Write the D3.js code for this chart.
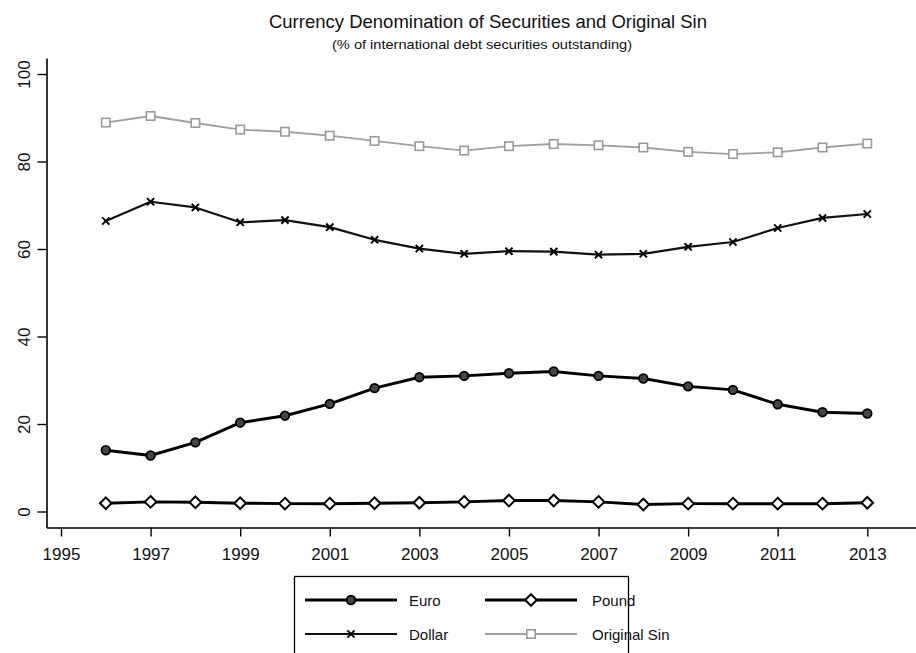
<!DOCTYPE html>
<html>
<head>
<meta charset="utf-8">
<script src="https://cdn.jsdelivr.net/npm/d3@7"></script>
<style>
  html, body { margin: 0; padding: 0; background: #fff; }
  svg { display: block; font-family: "Liberation Sans", Arial, sans-serif; }
</style>
</head>
<body>
<svg id="chart" width="916" height="653"></svg>
<script>
// ---- Data ----
const years = [1996,1997,1998,1999,2000,2001,2002,2003,2004,2005,2006,2007,2008,2009,2010,2011,2012,2013];
const euro = [14.0,12.8,15.8,20.3,21.9,24.6,28.2,30.7,31.0,31.6,32.0,31.0,30.4,28.6,27.8,24.5,22.7,22.4];
const pound = [1.9,2.2,2.1,1.9,1.8,1.8,1.9,2.0,2.2,2.5,2.5,2.2,1.6,1.8,1.8,1.8,1.8,2.0];
const dollar = [66.4,70.8,69.5,66.1,66.6,65.0,62.1,60.1,58.9,59.5,59.4,58.7,58.9,60.5,61.6,64.8,67.1,68.0];
const originalSin = [88.9,90.4,88.8,87.3,86.8,85.9,84.7,83.5,82.5,83.5,84.0,83.7,83.2,82.2,81.7,82.1,83.2,84.1];
const xTicks = [1995,1997,1999,2001,2003,2005,2007,2009,2011,2013];
const yTicks = [0,20,40,60,80,100];
const seriesNames = ["Euro","Pound","Dollar","Original Sin"];
const titleText = "Currency Denomination of Securities and Original Sin";
const subtitleText = "(% of international debt securities outstanding)";

// ---- Layout ----
const svg = d3.select("#chart");
const x = d3.scaleLinear().domain([1995, 2013]).range([61, 867.3]);
const y = d3.scaleLinear().domain([0, 100]).range([511.5, 74]);
const axisX = 46.5, axisY = 527.5, axisTop = 58, axisRight = 918;

// Title
svg.append("text").attr("x", 488).attr("y", 28).attr("text-anchor", "middle")
  .style("font-size", "18.5px").attr("fill", "#111").text(titleText);
svg.append("text").attr("x", 482).attr("y", 49).attr("text-anchor", "middle")
  .attr("textLength", 300).attr("lengthAdjust", "spacingAndGlyphs")
  .style("font-size", "13px").attr("fill", "#111").text(subtitleText);

// Axes
const yAxisScale = y.copy().domain([y.invert(axisY), y.invert(axisTop)]).range([axisY, axisTop]);
const gy = svg.append("g").attr("transform", `translate(${axisX},0)`)
  .call(d3.axisLeft(yAxisScale).tickValues(yTicks).tickSize(9).tickSizeOuter(0).tickFormat(d3.format("d")));
gy.select(".domain").attr("stroke", "#000").attr("stroke-width", 1.6);
gy.selectAll(".tick line").attr("stroke", "#000").attr("stroke-width", 1.4);
gy.selectAll(".tick text").attr("transform", "rotate(-90)").attr("x", 0).attr("y", -16.5)
  .attr("dy", 0).attr("text-anchor", "middle").style("font-size", "17px")
  .style("font-family", "Liberation Sans, Arial, sans-serif").attr("fill", "#111");

const xAxisScale = x.copy().domain([x.invert(axisX), x.invert(axisRight)]).range([axisX, axisRight]);
const gx = svg.append("g").attr("transform", `translate(0,${axisY})`)
  .call(d3.axisBottom(xAxisScale).tickValues(xTicks).tickSize(9).tickSizeOuter(0).tickFormat(d3.format("d")));
gx.select(".domain").attr("stroke", "#000").attr("stroke-width", 1.6);
gx.selectAll(".tick line").attr("stroke", "#000").attr("stroke-width", 1.4);
gx.selectAll(".tick text").attr("y", 32).attr("dy", 0).style("font-size", "17px")
  .style("font-family", "Liberation Sans, Arial, sans-serif").attr("fill", "#111");

// Marker drawers
function drawMarker(g, type, cx, cy) {
  if (type === "circle") {
    g.append("circle").attr("cx", cx).attr("cy", cy).attr("r", 4.3)
      .attr("fill", "#444").attr("stroke", "#000").attr("stroke-width", 1.8);
  } else if (type === "diamond") {
    const s = 5.8;
    g.append("path").attr("d", `M${cx},${cy-s}L${cx+s},${cy}L${cx},${cy+s}L${cx-s},${cy}Z`)
      .attr("fill", "#fff").attr("stroke", "#000").attr("stroke-width", 2);
  } else if (type === "x") {
    const s = 3.6;
    g.append("path").attr("d", `M${cx-s},${cy-s}L${cx+s},${cy+s}M${cx-s},${cy+s}L${cx+s},${cy-s}`)
      .attr("stroke", "#000").attr("stroke-width", 2).attr("fill", "none");
  } else if (type === "square") {
    const s = 4.2;
    g.append("rect").attr("x", cx-s).attr("y", cy-s).attr("width", 2*s).attr("height", 2*s)
      .attr("fill", "#fff").attr("stroke", "#9a9a9a").attr("stroke-width", 1.6);
  }
}

const series = [
  { name: seriesNames[0], values: euro, color: "#000", width: 3, marker: "circle" },
  { name: seriesNames[1], values: pound, color: "#000", width: 3, marker: "diamond" },
  { name: seriesNames[2], values: dollar, color: "#111", width: 2.2, marker: "x" },
  { name: seriesNames[3], values: originalSin, color: "#a0a0a0", width: 1.8, marker: "square" }
];

const line = d3.line().x(d => x(d[0])).y(d => y(d[1]));
const plot = svg.append("g");
series.slice().reverse().forEach(s => {
  const pts = years.map((yr, i) => [yr, s.values[i]]);
  plot.append("path").datum(pts).attr("d", line).attr("fill", "none")
    .attr("stroke", s.color).attr("stroke-width", s.width).attr("stroke-linejoin", "round");
  const mg = plot.append("g");
  pts.forEach(p => drawMarker(mg, s.marker, x(p[0]), y(p[1])));
});

// Legend
const lg = svg.append("g");
lg.append("rect").attr("x", 294.5).attr("y", 576.5).attr("width", 334).attr("height", 90)
  .attr("fill", "#fff").attr("stroke", "#000").attr("stroke-width", 1.3);
const legendPos = [
  { s: series[0], x0: 305, x1: 397, tx: 409, ly: 600 },
  { s: series[1], x0: 485, x1: 577, tx: 592, ly: 600 },
  { s: series[2], x0: 305, x1: 397, tx: 409, ly: 634 },
  { s: series[3], x0: 485, x1: 577, tx: 592, ly: 634 }
];
legendPos.forEach(l => {
  lg.append("line").attr("x1", l.x0).attr("x2", l.x1).attr("y1", l.ly).attr("y2", l.ly)
    .attr("stroke", l.s.color).attr("stroke-width", l.s.width);
  drawMarker(lg, l.s.marker, (l.x0 + l.x1) / 2, l.ly);
  lg.append("text").attr("x", l.tx).attr("y", l.ly + 5.5).style("font-size", "15px")
    .attr("fill", "#111").text(l.s.name);
});
</script>
</body>
</html>
